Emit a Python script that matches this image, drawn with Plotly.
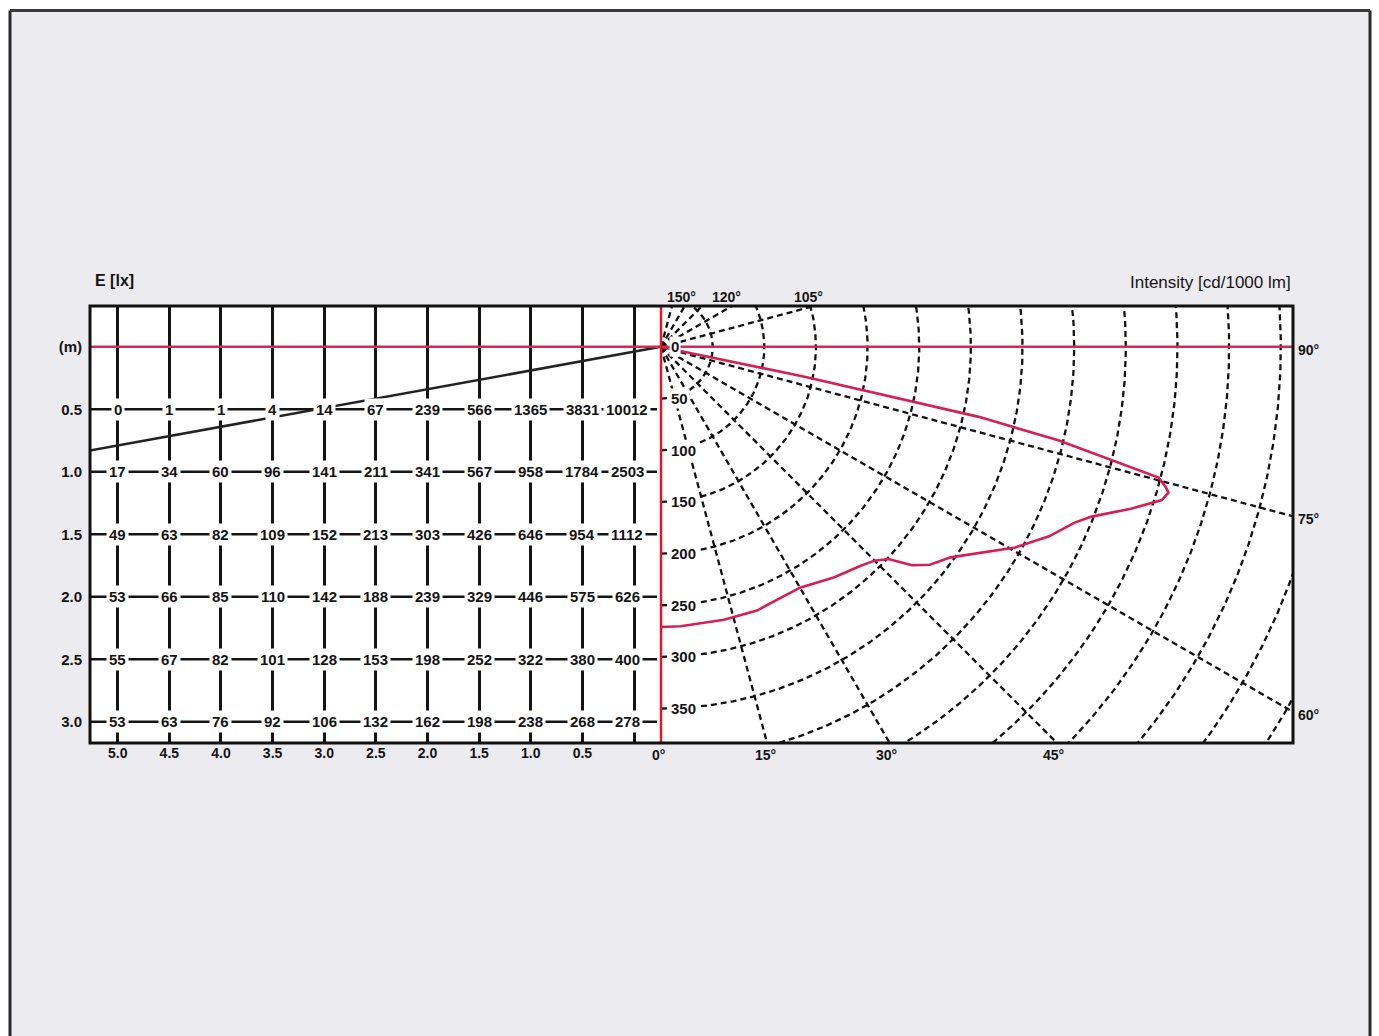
import numpy as np
import plotly.graph_objects as go

# ---------------- illuminance table E [lx] ----------------
distances_m = [5.0, 4.5, 4.0, 3.5, 3.0, 2.5, 2.0, 1.5, 1.0, 0.5, 0.0]
distance_labels = ["5.0", "4.5", "4.0", "3.5", "3.0", "2.5", "2.0", "1.5", "1.0", "0.5", ""]
heights_m = [0.5, 1.0, 1.5, 2.0, 2.5, 3.0]
height_labels = ["0.5", "1.0", "1.5", "2.0", "2.5", "3.0"]

E_h05 = [0, 1, 1, 4, 14, 67, 239, 566, 1365, 3831, 10012]
E_h10 = [17, 34, 60, 96, 141, 211, 341, 567, 958, 1784, 2503]
E_h15 = [49, 63, 82, 109, 152, 213, 303, 426, 646, 954, 1112]
E_h20 = [53, 66, 85, 110, 142, 188, 239, 329, 446, 575, 626]
E_h25 = [55, 67, 82, 101, 128, 153, 198, 252, 322, 380, 400]
E_h30 = [53, 63, 76, 92, 106, 132, 162, 198, 238, 268, 278]
illuminance = [E_h05, E_h10, E_h15, E_h20, E_h25, E_h30]

# cut-off line of the luminaire (distance m, height m)
cutoff_dist_m = [5.27, -0.26]
cutoff_height_m = [0.83, 0.0]

# ---------------- luminous intensity [cd/1000 lm] ----------------
gamma_deg = [0, 4, 13, 20, 30, 37, 42.5, 45, 47, 49, 51, 54, 60.5, 64, 67, 68.5,
             71, 73, 74, 74.5, 75.3, 76, 76.8, 77.6, 78.3, 80]
intensity_cd = [271, 271, 271, 271.5, 269, 279, 287, 292.5, 301, 322, 335, 346.5, 394, 418, 435, 448,
                481, 507, 511, 507, 498, 446, 395, 315, 143, 0]

# polar grid
grid_radii = [50, 100, 150, 200, 250, 300, 350, 400, 450, 500, 550, 600, 650, 700]
grid_angles = [15, 30, 45, 60, 75, 105, 120, 135, 150, 165]
radius_labels = [0, 50, 100, 150, 200, 250, 300, 350]

# ---------------- page geometry (pixels) ----------------
W, H = 1379, 1036
BOX_L, BOX_R, BOX_T, BOX_B = 90, 1293, 306, 743
SPLIT = 661
COL_FIRST_PX, COL_LAST_PX = 117.7, 634.0      # columns 5.0 m and 0.0 m
ROW_ZERO_PX, PX_PER_M_Y = 346.8, 125.0
ORIGIN_X, ORIGIN_Y, PX_PER_CD = 661.0, 347.0, 1.033

px_per_m_x = (COL_LAST_PX - COL_FIRST_PX) / 5.0


def fx(p):
    return p / W


def fy(p):
    return 1 - p / H


x_left_range = [5.0 + (COL_FIRST_PX - BOX_L) / px_per_m_x, -(SPLIT - COL_LAST_PX) / px_per_m_x]
y_left_range = [(BOX_B - ROW_ZERO_PX) / PX_PER_M_Y, (BOX_T - ROW_ZERO_PX) / PX_PER_M_Y]
x_right_range = [(SPLIT - ORIGIN_X) / PX_PER_CD, (BOX_R - ORIGIN_X) / PX_PER_CD]
y_right_range = [(BOX_B - ORIGIN_Y) / PX_PER_CD, (BOX_T - ORIGIN_Y) / PX_PER_CD]

INK = "#141414"
FONT = "Liberation Sans, Arial, sans-serif"
RED_H = "#cf2b57"
RED_V = "#f01020"
CURVE = "#d61f53"
TXT = dict(size=15, color=INK, family=FONT, weight="bold")
TXT_S = dict(size=14, color=INK, family=FONT, weight="bold")

fig = go.Figure()

# horizontal table rows
row_x, row_y = [], []
row_end = -(657 - COL_LAST_PX) / px_per_m_x
for h in heights_m:
    row_x += [x_left_range[0], row_end, None]
    row_y += [h, h, None]
fig.add_trace(go.Scatter(x=row_x, y=row_y, mode="lines", line=dict(color=INK, width=2.5),
                         hoverinfo="skip", showlegend=False, xaxis="x", yaxis="y"))

# cut-off line
fig.add_trace(go.Scatter(x=cutoff_dist_m, y=cutoff_height_m, mode="lines",
                         line=dict(color="#222222", width=2.6), hoverinfo="skip",
                         showlegend=False, xaxis="x", yaxis="y"))

# polar grid: arcs
arc = np.radians(np.linspace(0, 180, 721))
cx, cy = [], []
for r in grid_radii:
    cx += list(r * np.sin(arc)) + [None]
    cy += list(r * np.cos(arc)) + [None]
fig.add_trace(go.Scatter(x=cx, y=cy, mode="lines", line=dict(color="#111111", width=2.3, dash="6px,4px"),
                         hoverinfo="skip", showlegend=False, xaxis="x2", yaxis="y2"))

# polar grid: rays
rx, ry = [], []
for a in grid_angles:
    t = np.radians(a)
    rx += [0, 900 * np.sin(t), None]
    ry += [0, 900 * np.cos(t), None]
fig.add_trace(go.Scatter(x=rx, y=ry, mode="lines", line=dict(color="#111111", width=2.3, dash="6px,4px"),
                         hoverinfo="skip", showlegend=False, xaxis="x2", yaxis="y2"))

# intensity distribution curve
g = np.radians(gamma_deg)
I = np.array(intensity_cd, dtype=float)
fig.add_trace(go.Scatter(x=I * np.sin(g), y=I * np.cos(g), mode="lines",
                         line=dict(color=CURVE, width=2.6), hoverinfo="skip",
                         showlegend=False, xaxis="x2", yaxis="y2"))

annotations = []

# illuminance values at grid nodes
for i, h in enumerate(heights_m):
    for j, d in enumerate(distances_m):
        annotations.append(dict(
            x=d, y=h, xref="x", yref="y", text=str(illuminance[i][j]), showarrow=False,
            bgcolor="white", borderpad=2, xshift=-7 if d == 0.0 else 0, font=TXT))

# radial scale labels
for r in radius_labels:
    annotations.append(dict(
        x=8, y=r, xref="x2", yref="y2", text=str(r), showarrow=False, xanchor="left",
        bgcolor="white", borderpad=1, font=TXT))

# angle labels where the rays leave the frame
for a, shift in [(150, -3), (120, -6), (105, -6)]:
    xt = y_right_range[1] * np.tan(np.radians(a))
    annotations.append(dict(
        x=xt, y=fy(BOX_T), xref="x2", yref="paper", text=f"{a}°", showarrow=False,
        yanchor="bottom", yshift=-1, xshift=shift, font=TXT_S))
for a in [90, 75, 60]:
    yt = x_right_range[1] / np.tan(np.radians(a))
    annotations.append(dict(
        x=fx(BOX_R), y=yt, xref="paper", yref="y2", text=f"{a}°", showarrow=False,
        xanchor="left", xshift=3, yshift=-3, font=TXT_S))
for a, shift in [(0, -3), (15, -2), (30, -3), (45, -4)]:
    xt = y_right_range[0] * np.tan(np.radians(a))
    annotations.append(dict(
        x=xt, y=fy(BOX_B), xref="x2", yref="paper", text=f"{a}°", showarrow=False,
        yanchor="top", yshift=-2, xshift=shift, font=TXT_S))

# panel titles
annotations.append(dict(x=fx(93), y=fy(280), xref="paper", yref="paper", text="E [lx]",
                        showarrow=False, xanchor="left", yanchor="middle", font=dict(TXT, size=16)))
annotations.append(dict(x=fx(1293), y=fy(282), xref="paper", yref="paper",
                        text="Intensity [cd/1000 lm]", showarrow=False, xanchor="right",
                        yanchor="middle", font=dict(size=17, color=INK, family=FONT)))

shapes = [
    # white margin outside the page frame
    dict(type="rect", xref="paper", yref="paper", x0=0, x1=1, y0=fy(10), y1=1,
         fillcolor="white", line=dict(width=0), layer="below"),
    dict(type="rect", xref="paper", yref="paper", x0=0, x1=fx(10), y0=0, y1=1,
         fillcolor="white", line=dict(width=0), layer="below"),
    dict(type="rect", xref="paper", yref="paper", x0=fx(1370), x1=1, y0=0, y1=1,
         fillcolor="white", line=dict(width=0), layer="below"),
    # page frame
    dict(type="line", xref="paper", yref="paper", x0=fx(10), x1=fx(1370), y0=fy(10.5), y1=fy(10.5),
         line=dict(color="#3a3a3a", width=3), layer="below"),
    dict(type="line", xref="paper", yref="paper", x0=fx(10), x1=fx(10), y0=fy(10.5), y1=-0.02,
         line=dict(color="#2a2a2a", width=3), layer="below"),
    dict(type="line", xref="paper", yref="paper", x0=fx(1370), x1=fx(1370), y0=fy(10.5), y1=-0.02,
         line=dict(color="#2a2a2a", width=3), layer="below"),
    # reference lines: mounting height and nadir
    dict(type="line", xref="paper", yref="y", x0=fx(BOX_L), x1=fx(BOX_R), y0=0, y1=0,
         line=dict(color=RED_H, width=2.6), layer="above"),
    dict(type="line", xref="paper", yref="paper", x0=fx(SPLIT), x1=fx(SPLIT), y0=fy(BOX_T), y1=fy(BOX_B),
         line=dict(color=RED_V, width=2.4), layer="above"),
    # diagram frame
    dict(type="rect", xref="paper", yref="paper", x0=fx(BOX_L), x1=fx(BOX_R), y0=fy(BOX_B), y1=fy(BOX_T),
         line=dict(color="#111111", width=3), layer="above"),
]

fig.update_layout(
    width=W, height=H, margin=dict(l=0, r=0, t=0, b=0),
    paper_bgcolor="#ecebf0", plot_bgcolor="white",
    font=dict(family=FONT, size=15, color=INK),
    showlegend=False,
    xaxis=dict(domain=[fx(BOX_L), fx(SPLIT)], range=x_left_range, anchor="y",
               tickvals=distances_m, ticktext=distance_labels, ticks="",
               showgrid=True, gridcolor=INK, gridwidth=2.5, zeroline=False, showline=False,
               tickfont=TXT_S, ticklabelstandoff=0),
    yaxis=dict(domain=[fy(BOX_B), fy(BOX_T)], range=y_left_range, anchor="x",
               tickvals=[0.0] + heights_m, ticktext=["(m)"] + height_labels, ticks="",
               showgrid=False, zeroline=False, showline=False,
               tickfont=TXT, ticklabelstandoff=7),
    xaxis2=dict(domain=[fx(SPLIT), fx(BOX_R)], range=x_right_range, anchor="y2",
                showticklabels=False, showgrid=False, zeroline=False, showline=False, ticks=""),
    yaxis2=dict(domain=[fy(BOX_B), fy(BOX_T)], range=y_right_range, anchor="x2",
                showticklabels=False, showgrid=False, zeroline=False, showline=False, ticks=""),
    annotations=annotations,
    shapes=shapes,
)

fig.write_html("out.html")
